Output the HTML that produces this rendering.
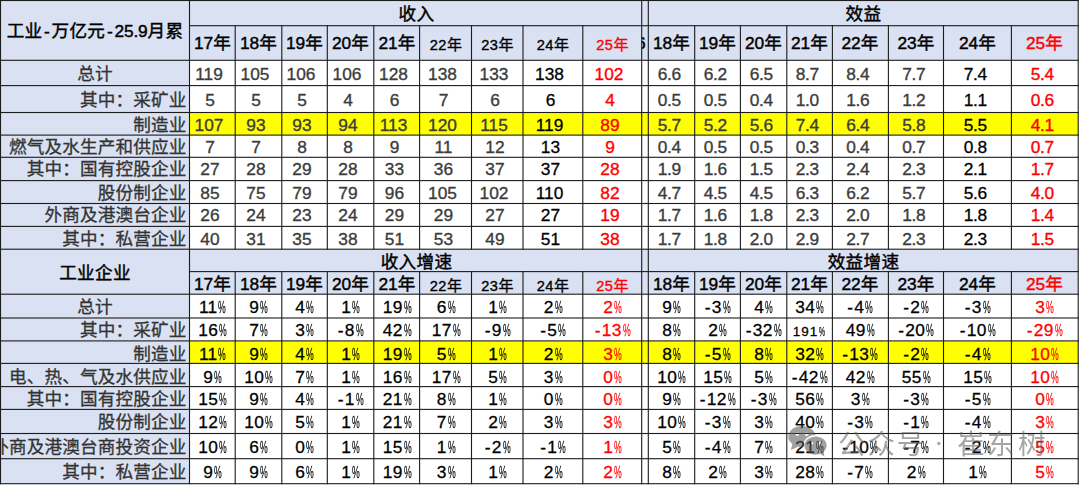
<!DOCTYPE html>
<html lang="zh"><head><meta charset="utf-8"><title>工业企业数据表</title>
<style>
html,body{margin:0;padding:0;background:#fff}
body{width:1080px;height:486px;overflow:hidden;position:relative;font-family:"Liberation Sans","Noto Sans CJK SC",sans-serif;font-size:17.33px;color:#000}
#t{position:absolute;left:0;top:0;width:1080px;height:486px;overflow:hidden;background:#fff}
.c{position:absolute;display:flex;align-items:flex-start;justify-content:center;overflow:hidden;white-space:nowrap;box-sizing:border-box;line-height:1}
.c>span{display:inline-block}
.k{font-size:17.6px}
.p{display:inline-block;width:7.6px;margin-left:1px;opacity:.95;transform:scaleX(0.5);transform-origin:left center;white-space:nowrap}
.pc{letter-spacing:0.2px}
.h{color:#000;-webkit-text-stroke:0.42px #000}
.h .k{letter-spacing:0.3px}
.tt{padding-left:1px}
.h.red{-webkit-text-stroke-color:#ff0000}
b.hy{font-weight:normal;margin:0 1.7px}
.d{letter-spacing:-0.15px}
.n{color:#3c3c3c;-webkit-text-stroke:0.35px}
.n:not(.pc){padding-right:5px}
.n.d3{padding-right:7px}
.n.dc{padding-right:4.6px;letter-spacing:-0.35px}
.k0{color:#000;-webkit-text-stroke-width:0.28px}
.red{color:#ff0000}
.lab{justify-content:flex-end;padding-right:3.6px;color:#333;-webkit-text-stroke:0.3px #333}
.lab.ctr{justify-content:center;padding-right:0}
.lab .k{letter-spacing:0.15px}
b.m{font-weight:normal;margin-right:1px}
.s{font-size:14.6px;-webkit-text-stroke-width:0.35px;letter-spacing:0.5px}
.s .k{font-size:15px}
.sm{font-size:13.5px;letter-spacing:1px}
.sm .p{width:7px}
.clip{position:absolute;left:-6px;top:9px}
#gl{position:absolute;left:0;top:0;width:1080px;height:486px;fill:#1c1c1c;pointer-events:none}
#wm{position:absolute;left:0;top:0;width:1080px;height:486px;fill:#666;opacity:.58;pointer-events:none}
#wm text{font-family:"Liberation Sans","Noto Sans CJK SC",sans-serif;font-size:27.5px}
.lg{fill:#5c5c5c}
</style></head>
<body>
<div id="t">
<div class="c h tl" style="left:0px;top:0px;width:190px;height:60px;background:#d9e1f2;padding-top:22.53px;"><span><span class="k">工业</span><b class="hy">-</b><span class="k">万亿元</span><b class="hy">-</b><span class="d">25.9</span><span class="k">月累</span></span></div>
<div class="c h tt" style="left:190px;top:0px;width:452px;height:26px;background:#d9e1f2;padding-top:5.93px;"><span><span class="k">收入</span></span></div>
<div class="c h" style="left:642px;top:0px;width:6px;height:26px;background:#d9e1f2;"></div>
<div class="c h tt" style="left:648px;top:0px;width:430px;height:26px;background:#d9e1f2;padding-top:5.93px;"><span><span class="k">效益</span></span></div>
<div class="c h y" style="left:190px;top:26px;width:45px;height:34px;background:#d9e1f2;padding-top:9.33px;"><span>17<span class="k">年</span></span></div>
<div class="c h y" style="left:235px;top:26px;width:47px;height:34px;background:#d9e1f2;padding-top:9.33px;"><span>18<span class="k">年</span></span></div>
<div class="c h y" style="left:282px;top:26px;width:45px;height:34px;background:#d9e1f2;padding-top:9.33px;"><span>19<span class="k">年</span></span></div>
<div class="c h y" style="left:327px;top:26px;width:47px;height:34px;background:#d9e1f2;padding-top:9.33px;"><span>20<span class="k">年</span></span></div>
<div class="c h y" style="left:374px;top:26px;width:46px;height:34px;background:#d9e1f2;padding-top:9.33px;"><span>21<span class="k">年</span></span></div>
<div class="c h y s" style="left:420px;top:26px;width:52px;height:34px;background:#d9e1f2;padding-top:10.84px;"><span>22<span class="k">年</span></span></div>
<div class="c h y s" style="left:472px;top:26px;width:51px;height:34px;background:#d9e1f2;padding-top:10.84px;"><span>23<span class="k">年</span></span></div>
<div class="c h y s" style="left:523px;top:26px;width:60px;height:34px;background:#d9e1f2;padding-top:10.84px;"><span>24<span class="k">年</span></span></div>
<div class="c h y s red" style="left:583px;top:26px;width:59px;height:34px;background:#d9e1f2;padding-top:10.84px;"><span>25<span class="k">年</span></span></div>
<div class="c h y gap" style="left:642px;top:26px;width:6px;height:34px;background:#d9e1f2;padding-top:9.33px;"><span class="clip">6</span></div>
<div class="c h y" style="left:648px;top:26px;width:47px;height:34px;background:#d9e1f2;padding-top:9.33px;"><span>18<span class="k">年</span></span></div>
<div class="c h y" style="left:695px;top:26px;width:45px;height:34px;background:#d9e1f2;padding-top:9.33px;"><span>19<span class="k">年</span></span></div>
<div class="c h y" style="left:740px;top:26px;width:47px;height:34px;background:#d9e1f2;padding-top:9.33px;"><span>20<span class="k">年</span></span></div>
<div class="c h y" style="left:787px;top:26px;width:45px;height:34px;background:#d9e1f2;padding-top:9.33px;"><span>21<span class="k">年</span></span></div>
<div class="c h y" style="left:832px;top:26px;width:56px;height:34px;background:#d9e1f2;padding-top:9.33px;"><span>22<span class="k">年</span></span></div>
<div class="c h y" style="left:888px;top:26px;width:56px;height:34px;background:#d9e1f2;padding-top:9.33px;"><span>23<span class="k">年</span></span></div>
<div class="c h y" style="left:944px;top:26px;width:67px;height:34px;background:#d9e1f2;padding-top:9.33px;"><span>24<span class="k">年</span></span></div>
<div class="c h y red" style="left:1011px;top:26px;width:67px;height:34px;background:#d9e1f2;padding-top:9.33px;"><span>25<span class="k">年</span></span></div>
<div class="c lab ctr" style="left:0px;top:60px;width:190px;height:26px;background:#d9e1f2;padding-top:5.73px;"><span><span class="k">总计</span></span></div>
<div class="c n d3" style="left:190px;top:60px;width:45px;height:26px;background:#fff;padding-top:5.73px;"><span>119</span></div>
<div class="c n d3" style="left:235px;top:60px;width:47px;height:26px;background:#fff;padding-top:5.73px;"><span>105</span></div>
<div class="c n d3" style="left:282px;top:60px;width:45px;height:26px;background:#fff;padding-top:5.73px;"><span>106</span></div>
<div class="c n d3" style="left:327px;top:60px;width:47px;height:26px;background:#fff;padding-top:5.73px;"><span>106</span></div>
<div class="c n d3" style="left:374px;top:60px;width:46px;height:26px;background:#fff;padding-top:5.73px;"><span>128</span></div>
<div class="c n d3" style="left:420px;top:60px;width:52px;height:26px;background:#fff;padding-top:5.73px;"><span>138</span></div>
<div class="c n d3" style="left:472px;top:60px;width:51px;height:26px;background:#fff;padding-top:5.73px;"><span>133</span></div>
<div class="c n k0 d3" style="left:523px;top:60px;width:60px;height:26px;background:#fff;padding-top:5.73px;"><span>138</span></div>
<div class="c n red d3" style="left:583px;top:60px;width:59px;height:26px;background:#fff;padding-top:5.73px;"><span>102</span></div>
<div class="c " style="left:642px;top:60px;width:6px;height:26px;background:#fff;"></div>
<div class="c n dc" style="left:648px;top:60px;width:47px;height:26px;background:#fff;padding-top:5.73px;"><span>6.6</span></div>
<div class="c n dc" style="left:695px;top:60px;width:45px;height:26px;background:#fff;padding-top:5.73px;"><span>6.2</span></div>
<div class="c n dc" style="left:740px;top:60px;width:47px;height:26px;background:#fff;padding-top:5.73px;"><span>6.5</span></div>
<div class="c n dc" style="left:787px;top:60px;width:45px;height:26px;background:#fff;padding-top:5.73px;"><span>8.7</span></div>
<div class="c n dc" style="left:832px;top:60px;width:56px;height:26px;background:#fff;padding-top:5.73px;"><span>8.4</span></div>
<div class="c n dc" style="left:888px;top:60px;width:56px;height:26px;background:#fff;padding-top:5.73px;"><span>7.7</span></div>
<div class="c n k0 dc" style="left:944px;top:60px;width:67px;height:26px;background:#fff;padding-top:5.73px;"><span>7.4</span></div>
<div class="c n red dc" style="left:1011px;top:60px;width:67px;height:26px;background:#fff;padding-top:5.73px;"><span>5.4</span></div>
<div class="c lab" style="left:0px;top:86px;width:190px;height:26px;background:#d9e1f2;padding-top:6.33px;"><span><span class="k">其中：采矿业</span></span></div>
<div class="c n" style="left:190px;top:86px;width:45px;height:26px;background:#fff;padding-top:6.33px;"><span>5</span></div>
<div class="c n" style="left:235px;top:86px;width:47px;height:26px;background:#fff;padding-top:6.33px;"><span>5</span></div>
<div class="c n" style="left:282px;top:86px;width:45px;height:26px;background:#fff;padding-top:6.33px;"><span>5</span></div>
<div class="c n" style="left:327px;top:86px;width:47px;height:26px;background:#fff;padding-top:6.33px;"><span>4</span></div>
<div class="c n" style="left:374px;top:86px;width:46px;height:26px;background:#fff;padding-top:6.33px;"><span>6</span></div>
<div class="c n" style="left:420px;top:86px;width:52px;height:26px;background:#fff;padding-top:6.33px;"><span>7</span></div>
<div class="c n" style="left:472px;top:86px;width:51px;height:26px;background:#fff;padding-top:6.33px;"><span>6</span></div>
<div class="c n k0" style="left:523px;top:86px;width:60px;height:26px;background:#fff;padding-top:6.33px;"><span>6</span></div>
<div class="c n red" style="left:583px;top:86px;width:59px;height:26px;background:#fff;padding-top:6.33px;"><span>4</span></div>
<div class="c " style="left:642px;top:86px;width:6px;height:26px;background:#fff;"></div>
<div class="c n dc" style="left:648px;top:86px;width:47px;height:26px;background:#fff;padding-top:6.33px;"><span>0.5</span></div>
<div class="c n dc" style="left:695px;top:86px;width:45px;height:26px;background:#fff;padding-top:6.33px;"><span>0.5</span></div>
<div class="c n dc" style="left:740px;top:86px;width:47px;height:26px;background:#fff;padding-top:6.33px;"><span>0.4</span></div>
<div class="c n dc" style="left:787px;top:86px;width:45px;height:26px;background:#fff;padding-top:6.33px;"><span>1.0</span></div>
<div class="c n dc" style="left:832px;top:86px;width:56px;height:26px;background:#fff;padding-top:6.33px;"><span>1.6</span></div>
<div class="c n dc" style="left:888px;top:86px;width:56px;height:26px;background:#fff;padding-top:6.33px;"><span>1.2</span></div>
<div class="c n k0 dc" style="left:944px;top:86px;width:67px;height:26px;background:#fff;padding-top:6.33px;"><span>1.1</span></div>
<div class="c n red dc" style="left:1011px;top:86px;width:67px;height:26px;background:#fff;padding-top:6.33px;"><span>0.6</span></div>
<div class="c lab" style="left:0px;top:112px;width:190px;height:23px;background:#d9e1f2;padding-top:4.68px;"><span><span class="k">制造业</span></span></div>
<div class="c n d3" style="left:190px;top:112px;width:45px;height:23px;background:#ffff00;padding-top:4.68px;"><span>107</span></div>
<div class="c n" style="left:235px;top:112px;width:47px;height:23px;background:#ffff00;padding-top:4.68px;"><span>93</span></div>
<div class="c n" style="left:282px;top:112px;width:45px;height:23px;background:#ffff00;padding-top:4.68px;"><span>93</span></div>
<div class="c n" style="left:327px;top:112px;width:47px;height:23px;background:#ffff00;padding-top:4.68px;"><span>94</span></div>
<div class="c n d3" style="left:374px;top:112px;width:46px;height:23px;background:#ffff00;padding-top:4.68px;"><span>113</span></div>
<div class="c n d3" style="left:420px;top:112px;width:52px;height:23px;background:#ffff00;padding-top:4.68px;"><span>120</span></div>
<div class="c n d3" style="left:472px;top:112px;width:51px;height:23px;background:#ffff00;padding-top:4.68px;"><span>115</span></div>
<div class="c n k0 d3" style="left:523px;top:112px;width:60px;height:23px;background:#ffff00;padding-top:4.68px;"><span>119</span></div>
<div class="c n red" style="left:583px;top:112px;width:59px;height:23px;background:#ffff00;padding-top:4.68px;"><span>89</span></div>
<div class="c " style="left:642px;top:112px;width:6px;height:23px;background:#ffff00;"></div>
<div class="c n dc" style="left:648px;top:112px;width:47px;height:23px;background:#ffff00;padding-top:4.68px;"><span>5.7</span></div>
<div class="c n dc" style="left:695px;top:112px;width:45px;height:23px;background:#ffff00;padding-top:4.68px;"><span>5.2</span></div>
<div class="c n dc" style="left:740px;top:112px;width:47px;height:23px;background:#ffff00;padding-top:4.68px;"><span>5.6</span></div>
<div class="c n dc" style="left:787px;top:112px;width:45px;height:23px;background:#ffff00;padding-top:4.68px;"><span>7.4</span></div>
<div class="c n dc" style="left:832px;top:112px;width:56px;height:23px;background:#ffff00;padding-top:4.68px;"><span>6.4</span></div>
<div class="c n dc" style="left:888px;top:112px;width:56px;height:23px;background:#ffff00;padding-top:4.68px;"><span>5.8</span></div>
<div class="c n k0 dc" style="left:944px;top:112px;width:67px;height:23px;background:#ffff00;padding-top:4.68px;"><span>5.5</span></div>
<div class="c n red dc" style="left:1011px;top:112px;width:67px;height:23px;background:#ffff00;padding-top:4.68px;"><span>4.1</span></div>
<div class="c lab" style="left:0px;top:135px;width:190px;height:22px;background:#d9e1f2;padding-top:4.13px;"><span><span class="k">燃气及水生产和供应业</span></span></div>
<div class="c n" style="left:190px;top:135px;width:45px;height:22px;background:#fff;padding-top:4.13px;"><span>7</span></div>
<div class="c n" style="left:235px;top:135px;width:47px;height:22px;background:#fff;padding-top:4.13px;"><span>7</span></div>
<div class="c n" style="left:282px;top:135px;width:45px;height:22px;background:#fff;padding-top:4.13px;"><span>8</span></div>
<div class="c n" style="left:327px;top:135px;width:47px;height:22px;background:#fff;padding-top:4.13px;"><span>8</span></div>
<div class="c n" style="left:374px;top:135px;width:46px;height:22px;background:#fff;padding-top:4.13px;"><span>9</span></div>
<div class="c n" style="left:420px;top:135px;width:52px;height:22px;background:#fff;padding-top:4.13px;"><span>11</span></div>
<div class="c n" style="left:472px;top:135px;width:51px;height:22px;background:#fff;padding-top:4.13px;"><span>12</span></div>
<div class="c n k0" style="left:523px;top:135px;width:60px;height:22px;background:#fff;padding-top:4.13px;"><span>13</span></div>
<div class="c n red" style="left:583px;top:135px;width:59px;height:22px;background:#fff;padding-top:4.13px;"><span>9</span></div>
<div class="c " style="left:642px;top:135px;width:6px;height:22px;background:#fff;"></div>
<div class="c n dc" style="left:648px;top:135px;width:47px;height:22px;background:#fff;padding-top:4.13px;"><span>0.4</span></div>
<div class="c n dc" style="left:695px;top:135px;width:45px;height:22px;background:#fff;padding-top:4.13px;"><span>0.5</span></div>
<div class="c n dc" style="left:740px;top:135px;width:47px;height:22px;background:#fff;padding-top:4.13px;"><span>0.5</span></div>
<div class="c n dc" style="left:787px;top:135px;width:45px;height:22px;background:#fff;padding-top:4.13px;"><span>0.3</span></div>
<div class="c n dc" style="left:832px;top:135px;width:56px;height:22px;background:#fff;padding-top:4.13px;"><span>0.4</span></div>
<div class="c n dc" style="left:888px;top:135px;width:56px;height:22px;background:#fff;padding-top:4.13px;"><span>0.7</span></div>
<div class="c n k0 dc" style="left:944px;top:135px;width:67px;height:22px;background:#fff;padding-top:4.13px;"><span>0.8</span></div>
<div class="c n red dc" style="left:1011px;top:135px;width:67px;height:22px;background:#fff;padding-top:4.13px;"><span>0.7</span></div>
<div class="c lab" style="left:0px;top:157px;width:190px;height:24px;background:#d9e1f2;padding-top:4.48px;"><span><span class="k">其中：国有控股企业</span></span></div>
<div class="c n" style="left:190px;top:157px;width:45px;height:24px;background:#fff;padding-top:4.48px;"><span>27</span></div>
<div class="c n" style="left:235px;top:157px;width:47px;height:24px;background:#fff;padding-top:4.48px;"><span>28</span></div>
<div class="c n" style="left:282px;top:157px;width:45px;height:24px;background:#fff;padding-top:4.48px;"><span>29</span></div>
<div class="c n" style="left:327px;top:157px;width:47px;height:24px;background:#fff;padding-top:4.48px;"><span>28</span></div>
<div class="c n" style="left:374px;top:157px;width:46px;height:24px;background:#fff;padding-top:4.48px;"><span>33</span></div>
<div class="c n" style="left:420px;top:157px;width:52px;height:24px;background:#fff;padding-top:4.48px;"><span>36</span></div>
<div class="c n" style="left:472px;top:157px;width:51px;height:24px;background:#fff;padding-top:4.48px;"><span>37</span></div>
<div class="c n k0" style="left:523px;top:157px;width:60px;height:24px;background:#fff;padding-top:4.48px;"><span>37</span></div>
<div class="c n red" style="left:583px;top:157px;width:59px;height:24px;background:#fff;padding-top:4.48px;"><span>28</span></div>
<div class="c " style="left:642px;top:157px;width:6px;height:24px;background:#fff;"></div>
<div class="c n dc" style="left:648px;top:157px;width:47px;height:24px;background:#fff;padding-top:4.48px;"><span>1.9</span></div>
<div class="c n dc" style="left:695px;top:157px;width:45px;height:24px;background:#fff;padding-top:4.48px;"><span>1.6</span></div>
<div class="c n dc" style="left:740px;top:157px;width:47px;height:24px;background:#fff;padding-top:4.48px;"><span>1.5</span></div>
<div class="c n dc" style="left:787px;top:157px;width:45px;height:24px;background:#fff;padding-top:4.48px;"><span>2.3</span></div>
<div class="c n dc" style="left:832px;top:157px;width:56px;height:24px;background:#fff;padding-top:4.48px;"><span>2.4</span></div>
<div class="c n dc" style="left:888px;top:157px;width:56px;height:24px;background:#fff;padding-top:4.48px;"><span>2.3</span></div>
<div class="c n k0 dc" style="left:944px;top:157px;width:67px;height:24px;background:#fff;padding-top:4.48px;"><span>2.1</span></div>
<div class="c n red dc" style="left:1011px;top:157px;width:67px;height:24px;background:#fff;padding-top:4.48px;"><span>1.7</span></div>
<div class="c lab" style="left:0px;top:181px;width:190px;height:23px;background:#d9e1f2;padding-top:3.53px;"><span><span class="k">股份制企业</span></span></div>
<div class="c n" style="left:190px;top:181px;width:45px;height:23px;background:#fff;padding-top:3.53px;"><span>85</span></div>
<div class="c n" style="left:235px;top:181px;width:47px;height:23px;background:#fff;padding-top:3.53px;"><span>75</span></div>
<div class="c n" style="left:282px;top:181px;width:45px;height:23px;background:#fff;padding-top:3.53px;"><span>79</span></div>
<div class="c n" style="left:327px;top:181px;width:47px;height:23px;background:#fff;padding-top:3.53px;"><span>79</span></div>
<div class="c n" style="left:374px;top:181px;width:46px;height:23px;background:#fff;padding-top:3.53px;"><span>96</span></div>
<div class="c n d3" style="left:420px;top:181px;width:52px;height:23px;background:#fff;padding-top:3.53px;"><span>105</span></div>
<div class="c n d3" style="left:472px;top:181px;width:51px;height:23px;background:#fff;padding-top:3.53px;"><span>102</span></div>
<div class="c n k0 d3" style="left:523px;top:181px;width:60px;height:23px;background:#fff;padding-top:3.53px;"><span>110</span></div>
<div class="c n red" style="left:583px;top:181px;width:59px;height:23px;background:#fff;padding-top:3.53px;"><span>82</span></div>
<div class="c " style="left:642px;top:181px;width:6px;height:23px;background:#fff;"></div>
<div class="c n dc" style="left:648px;top:181px;width:47px;height:23px;background:#fff;padding-top:3.53px;"><span>4.7</span></div>
<div class="c n dc" style="left:695px;top:181px;width:45px;height:23px;background:#fff;padding-top:3.53px;"><span>4.5</span></div>
<div class="c n dc" style="left:740px;top:181px;width:47px;height:23px;background:#fff;padding-top:3.53px;"><span>4.5</span></div>
<div class="c n dc" style="left:787px;top:181px;width:45px;height:23px;background:#fff;padding-top:3.53px;"><span>6.3</span></div>
<div class="c n dc" style="left:832px;top:181px;width:56px;height:23px;background:#fff;padding-top:3.53px;"><span>6.2</span></div>
<div class="c n dc" style="left:888px;top:181px;width:56px;height:23px;background:#fff;padding-top:3.53px;"><span>5.7</span></div>
<div class="c n k0 dc" style="left:944px;top:181px;width:67px;height:23px;background:#fff;padding-top:3.53px;"><span>5.6</span></div>
<div class="c n red dc" style="left:1011px;top:181px;width:67px;height:23px;background:#fff;padding-top:3.53px;"><span>4.0</span></div>
<div class="c lab" style="left:0px;top:204px;width:190px;height:22px;background:#d9e1f2;padding-top:3.23px;"><span><span class="k">外商及港澳台企业</span></span></div>
<div class="c n" style="left:190px;top:204px;width:45px;height:22px;background:#fff;padding-top:3.23px;"><span>26</span></div>
<div class="c n" style="left:235px;top:204px;width:47px;height:22px;background:#fff;padding-top:3.23px;"><span>24</span></div>
<div class="c n" style="left:282px;top:204px;width:45px;height:22px;background:#fff;padding-top:3.23px;"><span>23</span></div>
<div class="c n" style="left:327px;top:204px;width:47px;height:22px;background:#fff;padding-top:3.23px;"><span>24</span></div>
<div class="c n" style="left:374px;top:204px;width:46px;height:22px;background:#fff;padding-top:3.23px;"><span>29</span></div>
<div class="c n" style="left:420px;top:204px;width:52px;height:22px;background:#fff;padding-top:3.23px;"><span>29</span></div>
<div class="c n" style="left:472px;top:204px;width:51px;height:22px;background:#fff;padding-top:3.23px;"><span>27</span></div>
<div class="c n k0" style="left:523px;top:204px;width:60px;height:22px;background:#fff;padding-top:3.23px;"><span>27</span></div>
<div class="c n red" style="left:583px;top:204px;width:59px;height:22px;background:#fff;padding-top:3.23px;"><span>19</span></div>
<div class="c " style="left:642px;top:204px;width:6px;height:22px;background:#fff;"></div>
<div class="c n dc" style="left:648px;top:204px;width:47px;height:22px;background:#fff;padding-top:3.23px;"><span>1.7</span></div>
<div class="c n dc" style="left:695px;top:204px;width:45px;height:22px;background:#fff;padding-top:3.23px;"><span>1.6</span></div>
<div class="c n dc" style="left:740px;top:204px;width:47px;height:22px;background:#fff;padding-top:3.23px;"><span>1.8</span></div>
<div class="c n dc" style="left:787px;top:204px;width:45px;height:22px;background:#fff;padding-top:3.23px;"><span>2.3</span></div>
<div class="c n dc" style="left:832px;top:204px;width:56px;height:22px;background:#fff;padding-top:3.23px;"><span>2.0</span></div>
<div class="c n dc" style="left:888px;top:204px;width:56px;height:22px;background:#fff;padding-top:3.23px;"><span>1.8</span></div>
<div class="c n k0 dc" style="left:944px;top:204px;width:67px;height:22px;background:#fff;padding-top:3.23px;"><span>1.8</span></div>
<div class="c n red dc" style="left:1011px;top:204px;width:67px;height:22px;background:#fff;padding-top:3.23px;"><span>1.4</span></div>
<div class="c lab" style="left:0px;top:226px;width:190px;height:23px;background:#d9e1f2;padding-top:4.78px;"><span><span class="k">其中：私营企业</span></span></div>
<div class="c n" style="left:190px;top:226px;width:45px;height:23px;background:#fff;padding-top:4.78px;"><span>40</span></div>
<div class="c n" style="left:235px;top:226px;width:47px;height:23px;background:#fff;padding-top:4.78px;"><span>31</span></div>
<div class="c n" style="left:282px;top:226px;width:45px;height:23px;background:#fff;padding-top:4.78px;"><span>35</span></div>
<div class="c n" style="left:327px;top:226px;width:47px;height:23px;background:#fff;padding-top:4.78px;"><span>38</span></div>
<div class="c n" style="left:374px;top:226px;width:46px;height:23px;background:#fff;padding-top:4.78px;"><span>51</span></div>
<div class="c n" style="left:420px;top:226px;width:52px;height:23px;background:#fff;padding-top:4.78px;"><span>53</span></div>
<div class="c n" style="left:472px;top:226px;width:51px;height:23px;background:#fff;padding-top:4.78px;"><span>49</span></div>
<div class="c n k0" style="left:523px;top:226px;width:60px;height:23px;background:#fff;padding-top:4.78px;"><span>51</span></div>
<div class="c n red" style="left:583px;top:226px;width:59px;height:23px;background:#fff;padding-top:4.78px;"><span>38</span></div>
<div class="c " style="left:642px;top:226px;width:6px;height:23px;background:#fff;"></div>
<div class="c n dc" style="left:648px;top:226px;width:47px;height:23px;background:#fff;padding-top:4.78px;"><span>1.7</span></div>
<div class="c n dc" style="left:695px;top:226px;width:45px;height:23px;background:#fff;padding-top:4.78px;"><span>1.8</span></div>
<div class="c n dc" style="left:740px;top:226px;width:47px;height:23px;background:#fff;padding-top:4.78px;"><span>2.0</span></div>
<div class="c n dc" style="left:787px;top:226px;width:45px;height:23px;background:#fff;padding-top:4.78px;"><span>2.9</span></div>
<div class="c n dc" style="left:832px;top:226px;width:56px;height:23px;background:#fff;padding-top:4.78px;"><span>2.7</span></div>
<div class="c n dc" style="left:888px;top:226px;width:56px;height:23px;background:#fff;padding-top:4.78px;"><span>2.3</span></div>
<div class="c n k0 dc" style="left:944px;top:226px;width:67px;height:23px;background:#fff;padding-top:4.78px;"><span>2.3</span></div>
<div class="c n red dc" style="left:1011px;top:226px;width:67px;height:23px;background:#fff;padding-top:4.78px;"><span>1.5</span></div>
<div class="c h tl" style="left:0px;top:249px;width:190px;height:45px;background:#d9e1f2;padding-top:16.13px;"><span><span class="k">工业企业</span></span></div>
<div class="c h tt" style="left:190px;top:249px;width:452px;height:23px;background:#d9e1f2;padding-top:4.93px;"><span><span class="k">收入增速</span></span></div>
<div class="c h" style="left:642px;top:249px;width:6px;height:23px;background:#d9e1f2;"></div>
<div class="c h tt" style="left:648px;top:249px;width:430px;height:23px;background:#d9e1f2;padding-top:4.93px;"><span><span class="k">效益增速</span></span></div>
<div class="c h y" style="left:190px;top:272px;width:45px;height:22px;background:#d9e1f2;padding-top:4.23px;"><span>17<span class="k">年</span></span></div>
<div class="c h y" style="left:235px;top:272px;width:47px;height:22px;background:#d9e1f2;padding-top:4.23px;"><span>18<span class="k">年</span></span></div>
<div class="c h y" style="left:282px;top:272px;width:45px;height:22px;background:#d9e1f2;padding-top:4.23px;"><span>19<span class="k">年</span></span></div>
<div class="c h y" style="left:327px;top:272px;width:47px;height:22px;background:#d9e1f2;padding-top:4.23px;"><span>20<span class="k">年</span></span></div>
<div class="c h y" style="left:374px;top:272px;width:46px;height:22px;background:#d9e1f2;padding-top:4.23px;"><span>21<span class="k">年</span></span></div>
<div class="c h y s" style="left:420px;top:272px;width:52px;height:22px;background:#d9e1f2;padding-top:5.74px;"><span>22<span class="k">年</span></span></div>
<div class="c h y s" style="left:472px;top:272px;width:51px;height:22px;background:#d9e1f2;padding-top:5.74px;"><span>23<span class="k">年</span></span></div>
<div class="c h y s" style="left:523px;top:272px;width:60px;height:22px;background:#d9e1f2;padding-top:5.74px;"><span>24<span class="k">年</span></span></div>
<div class="c h y s red" style="left:583px;top:272px;width:59px;height:22px;background:#d9e1f2;padding-top:5.74px;"><span>25<span class="k">年</span></span></div>
<div class="c h y gap" style="left:642px;top:272px;width:6px;height:22px;background:#d9e1f2;padding-top:4.23px;"></div>
<div class="c h y" style="left:648px;top:272px;width:47px;height:22px;background:#d9e1f2;padding-top:4.23px;"><span>18<span class="k">年</span></span></div>
<div class="c h y" style="left:695px;top:272px;width:45px;height:22px;background:#d9e1f2;padding-top:4.23px;"><span>19<span class="k">年</span></span></div>
<div class="c h y" style="left:740px;top:272px;width:47px;height:22px;background:#d9e1f2;padding-top:4.23px;"><span>20<span class="k">年</span></span></div>
<div class="c h y" style="left:787px;top:272px;width:45px;height:22px;background:#d9e1f2;padding-top:4.23px;"><span>21<span class="k">年</span></span></div>
<div class="c h y" style="left:832px;top:272px;width:56px;height:22px;background:#d9e1f2;padding-top:4.23px;"><span>22<span class="k">年</span></span></div>
<div class="c h y" style="left:888px;top:272px;width:56px;height:22px;background:#d9e1f2;padding-top:4.23px;"><span>23<span class="k">年</span></span></div>
<div class="c h y" style="left:944px;top:272px;width:67px;height:22px;background:#d9e1f2;padding-top:4.23px;"><span>24<span class="k">年</span></span></div>
<div class="c h y red" style="left:1011px;top:272px;width:67px;height:22px;background:#d9e1f2;padding-top:4.23px;"><span>25<span class="k">年</span></span></div>
<div class="c lab ctr" style="left:0px;top:294px;width:190px;height:24px;background:#d9e1f2;padding-top:5.03px;"><span><span class="k">总计</span></span></div>
<div class="c n k0 pc" style="left:190px;top:294px;width:45px;height:24px;background:#fff;padding-top:5.03px;"><span>11<span class="p">%</span></span></div>
<div class="c n k0 pc" style="left:235px;top:294px;width:47px;height:24px;background:#fff;padding-top:5.03px;"><span>9<span class="p">%</span></span></div>
<div class="c n k0 pc" style="left:282px;top:294px;width:45px;height:24px;background:#fff;padding-top:5.03px;"><span>4<span class="p">%</span></span></div>
<div class="c n k0 pc" style="left:327px;top:294px;width:47px;height:24px;background:#fff;padding-top:5.03px;"><span>1<span class="p">%</span></span></div>
<div class="c n k0 pc" style="left:374px;top:294px;width:46px;height:24px;background:#fff;padding-top:5.03px;"><span>19<span class="p">%</span></span></div>
<div class="c n k0 pc" style="left:420px;top:294px;width:52px;height:24px;background:#fff;padding-top:5.03px;"><span>6<span class="p">%</span></span></div>
<div class="c n k0 pc" style="left:472px;top:294px;width:51px;height:24px;background:#fff;padding-top:5.03px;"><span>1<span class="p">%</span></span></div>
<div class="c n k0 pc" style="left:523px;top:294px;width:60px;height:24px;background:#fff;padding-top:5.03px;"><span>2<span class="p">%</span></span></div>
<div class="c n k0 red pc" style="left:583px;top:294px;width:59px;height:24px;background:#fff;padding-top:5.03px;"><span>2<span class="p">%</span></span></div>
<div class="c " style="left:642px;top:294px;width:6px;height:24px;background:#fff;"></div>
<div class="c n k0 pc" style="left:648px;top:294px;width:47px;height:24px;background:#fff;padding-top:5.03px;"><span>9<span class="p">%</span></span></div>
<div class="c n k0 pc" style="left:695px;top:294px;width:45px;height:24px;background:#fff;padding-top:5.03px;"><span><b class="m">-</b>3<span class="p">%</span></span></div>
<div class="c n k0 pc" style="left:740px;top:294px;width:47px;height:24px;background:#fff;padding-top:5.03px;"><span>4<span class="p">%</span></span></div>
<div class="c n k0 pc" style="left:787px;top:294px;width:45px;height:24px;background:#fff;padding-top:5.03px;"><span>34<span class="p">%</span></span></div>
<div class="c n k0 pc" style="left:832px;top:294px;width:56px;height:24px;background:#fff;padding-top:5.03px;"><span><b class="m">-</b>4<span class="p">%</span></span></div>
<div class="c n k0 pc" style="left:888px;top:294px;width:56px;height:24px;background:#fff;padding-top:5.03px;"><span><b class="m">-</b>2<span class="p">%</span></span></div>
<div class="c n k0 pc" style="left:944px;top:294px;width:67px;height:24px;background:#fff;padding-top:5.03px;"><span><b class="m">-</b>3<span class="p">%</span></span></div>
<div class="c n k0 red pc" style="left:1011px;top:294px;width:67px;height:24px;background:#fff;padding-top:5.03px;"><span>3<span class="p">%</span></span></div>
<div class="c lab" style="left:0px;top:318px;width:190px;height:23px;background:#d9e1f2;padding-top:4.23px;"><span><span class="k">其中：采矿业</span></span></div>
<div class="c n k0 pc" style="left:190px;top:318px;width:45px;height:23px;background:#fff;padding-top:4.23px;"><span>16<span class="p">%</span></span></div>
<div class="c n k0 pc" style="left:235px;top:318px;width:47px;height:23px;background:#fff;padding-top:4.23px;"><span>7<span class="p">%</span></span></div>
<div class="c n k0 pc" style="left:282px;top:318px;width:45px;height:23px;background:#fff;padding-top:4.23px;"><span>3<span class="p">%</span></span></div>
<div class="c n k0 pc" style="left:327px;top:318px;width:47px;height:23px;background:#fff;padding-top:4.23px;"><span><b class="m">-</b>8<span class="p">%</span></span></div>
<div class="c n k0 pc" style="left:374px;top:318px;width:46px;height:23px;background:#fff;padding-top:4.23px;"><span>42<span class="p">%</span></span></div>
<div class="c n k0 pc" style="left:420px;top:318px;width:52px;height:23px;background:#fff;padding-top:4.23px;"><span>17<span class="p">%</span></span></div>
<div class="c n k0 pc" style="left:472px;top:318px;width:51px;height:23px;background:#fff;padding-top:4.23px;"><span><b class="m">-</b>9<span class="p">%</span></span></div>
<div class="c n k0 pc" style="left:523px;top:318px;width:60px;height:23px;background:#fff;padding-top:4.23px;"><span><b class="m">-</b>5<span class="p">%</span></span></div>
<div class="c n k0 red pc" style="left:583px;top:318px;width:59px;height:23px;background:#fff;padding-top:4.23px;"><span><b class="m">-</b>13<span class="p">%</span></span></div>
<div class="c " style="left:642px;top:318px;width:6px;height:23px;background:#fff;"></div>
<div class="c n k0 pc" style="left:648px;top:318px;width:47px;height:23px;background:#fff;padding-top:4.23px;"><span>8<span class="p">%</span></span></div>
<div class="c n k0 pc" style="left:695px;top:318px;width:45px;height:23px;background:#fff;padding-top:4.23px;"><span>2<span class="p">%</span></span></div>
<div class="c n k0 pc" style="left:740px;top:318px;width:47px;height:23px;background:#fff;padding-top:4.23px;"><span><b class="m">-</b>32<span class="p">%</span></span></div>
<div class="c n k0 pc sm" style="left:787px;top:318px;width:45px;height:23px;background:#fff;padding-top:6.97px;"><span>191<span class="p">%</span></span></div>
<div class="c n k0 pc" style="left:832px;top:318px;width:56px;height:23px;background:#fff;padding-top:4.23px;"><span>49<span class="p">%</span></span></div>
<div class="c n k0 pc" style="left:888px;top:318px;width:56px;height:23px;background:#fff;padding-top:4.23px;"><span><b class="m">-</b>20<span class="p">%</span></span></div>
<div class="c n k0 pc" style="left:944px;top:318px;width:67px;height:23px;background:#fff;padding-top:4.23px;"><span><b class="m">-</b>10<span class="p">%</span></span></div>
<div class="c n k0 red pc" style="left:1011px;top:318px;width:67px;height:23px;background:#fff;padding-top:4.23px;"><span><b class="m">-</b>29<span class="p">%</span></span></div>
<div class="c lab" style="left:0px;top:341px;width:190px;height:22px;background:#d9e1f2;padding-top:4.68px;"><span><span class="k">制造业</span></span></div>
<div class="c n k0 pc" style="left:190px;top:341px;width:45px;height:22px;background:#ffff00;padding-top:4.68px;"><span>11<span class="p">%</span></span></div>
<div class="c n k0 pc" style="left:235px;top:341px;width:47px;height:22px;background:#ffff00;padding-top:4.68px;"><span>9<span class="p">%</span></span></div>
<div class="c n k0 pc" style="left:282px;top:341px;width:45px;height:22px;background:#ffff00;padding-top:4.68px;"><span>4<span class="p">%</span></span></div>
<div class="c n k0 pc" style="left:327px;top:341px;width:47px;height:22px;background:#ffff00;padding-top:4.68px;"><span>1<span class="p">%</span></span></div>
<div class="c n k0 pc" style="left:374px;top:341px;width:46px;height:22px;background:#ffff00;padding-top:4.68px;"><span>19<span class="p">%</span></span></div>
<div class="c n k0 pc" style="left:420px;top:341px;width:52px;height:22px;background:#ffff00;padding-top:4.68px;"><span>5<span class="p">%</span></span></div>
<div class="c n k0 pc" style="left:472px;top:341px;width:51px;height:22px;background:#ffff00;padding-top:4.68px;"><span>1<span class="p">%</span></span></div>
<div class="c n k0 pc" style="left:523px;top:341px;width:60px;height:22px;background:#ffff00;padding-top:4.68px;"><span>2<span class="p">%</span></span></div>
<div class="c n k0 red pc" style="left:583px;top:341px;width:59px;height:22px;background:#ffff00;padding-top:4.68px;"><span>3<span class="p">%</span></span></div>
<div class="c " style="left:642px;top:341px;width:6px;height:22px;background:#ffff00;"></div>
<div class="c n k0 pc" style="left:648px;top:341px;width:47px;height:22px;background:#ffff00;padding-top:4.68px;"><span>8<span class="p">%</span></span></div>
<div class="c n k0 pc" style="left:695px;top:341px;width:45px;height:22px;background:#ffff00;padding-top:4.68px;"><span><b class="m">-</b>5<span class="p">%</span></span></div>
<div class="c n k0 pc" style="left:740px;top:341px;width:47px;height:22px;background:#ffff00;padding-top:4.68px;"><span>8<span class="p">%</span></span></div>
<div class="c n k0 pc" style="left:787px;top:341px;width:45px;height:22px;background:#ffff00;padding-top:4.68px;"><span>32<span class="p">%</span></span></div>
<div class="c n k0 pc" style="left:832px;top:341px;width:56px;height:22px;background:#ffff00;padding-top:4.68px;"><span><b class="m">-</b>13<span class="p">%</span></span></div>
<div class="c n k0 pc" style="left:888px;top:341px;width:56px;height:22px;background:#ffff00;padding-top:4.68px;"><span><b class="m">-</b>2<span class="p">%</span></span></div>
<div class="c n k0 pc" style="left:944px;top:341px;width:67px;height:22px;background:#ffff00;padding-top:4.68px;"><span><b class="m">-</b>4<span class="p">%</span></span></div>
<div class="c n k0 red pc" style="left:1011px;top:341px;width:67px;height:22px;background:#ffff00;padding-top:4.68px;"><span>10<span class="p">%</span></span></div>
<div class="c lab" style="left:0px;top:363px;width:190px;height:24px;background:#d9e1f2;padding-top:5.83px;"><span><span class="k">电、热、气及水供应业</span></span></div>
<div class="c n k0 pc" style="left:190px;top:363px;width:45px;height:24px;background:#fff;padding-top:5.83px;"><span>9<span class="p">%</span></span></div>
<div class="c n k0 pc" style="left:235px;top:363px;width:47px;height:24px;background:#fff;padding-top:5.83px;"><span>10<span class="p">%</span></span></div>
<div class="c n k0 pc" style="left:282px;top:363px;width:45px;height:24px;background:#fff;padding-top:5.83px;"><span>7<span class="p">%</span></span></div>
<div class="c n k0 pc" style="left:327px;top:363px;width:47px;height:24px;background:#fff;padding-top:5.83px;"><span>1<span class="p">%</span></span></div>
<div class="c n k0 pc" style="left:374px;top:363px;width:46px;height:24px;background:#fff;padding-top:5.83px;"><span>16<span class="p">%</span></span></div>
<div class="c n k0 pc" style="left:420px;top:363px;width:52px;height:24px;background:#fff;padding-top:5.83px;"><span>17<span class="p">%</span></span></div>
<div class="c n k0 pc" style="left:472px;top:363px;width:51px;height:24px;background:#fff;padding-top:5.83px;"><span>5<span class="p">%</span></span></div>
<div class="c n k0 pc" style="left:523px;top:363px;width:60px;height:24px;background:#fff;padding-top:5.83px;"><span>3<span class="p">%</span></span></div>
<div class="c n k0 red pc" style="left:583px;top:363px;width:59px;height:24px;background:#fff;padding-top:5.83px;"><span>0<span class="p">%</span></span></div>
<div class="c " style="left:642px;top:363px;width:6px;height:24px;background:#fff;"></div>
<div class="c n k0 pc" style="left:648px;top:363px;width:47px;height:24px;background:#fff;padding-top:5.83px;"><span>10<span class="p">%</span></span></div>
<div class="c n k0 pc" style="left:695px;top:363px;width:45px;height:24px;background:#fff;padding-top:5.83px;"><span>15<span class="p">%</span></span></div>
<div class="c n k0 pc" style="left:740px;top:363px;width:47px;height:24px;background:#fff;padding-top:5.83px;"><span>5<span class="p">%</span></span></div>
<div class="c n k0 pc" style="left:787px;top:363px;width:45px;height:24px;background:#fff;padding-top:5.83px;"><span><b class="m">-</b>42<span class="p">%</span></span></div>
<div class="c n k0 pc" style="left:832px;top:363px;width:56px;height:24px;background:#fff;padding-top:5.83px;"><span>42<span class="p">%</span></span></div>
<div class="c n k0 pc" style="left:888px;top:363px;width:56px;height:24px;background:#fff;padding-top:5.83px;"><span>55<span class="p">%</span></span></div>
<div class="c n k0 pc" style="left:944px;top:363px;width:67px;height:24px;background:#fff;padding-top:5.83px;"><span>15<span class="p">%</span></span></div>
<div class="c n k0 red pc" style="left:1011px;top:363px;width:67px;height:24px;background:#fff;padding-top:5.83px;"><span>10<span class="p">%</span></span></div>
<div class="c lab" style="left:0px;top:387px;width:190px;height:22px;background:#d9e1f2;padding-top:4.18px;"><span><span class="k">其中：国有控股企业</span></span></div>
<div class="c n k0 pc" style="left:190px;top:387px;width:45px;height:22px;background:#fff;padding-top:4.18px;"><span>15<span class="p">%</span></span></div>
<div class="c n k0 pc" style="left:235px;top:387px;width:47px;height:22px;background:#fff;padding-top:4.18px;"><span>9<span class="p">%</span></span></div>
<div class="c n k0 pc" style="left:282px;top:387px;width:45px;height:22px;background:#fff;padding-top:4.18px;"><span>4<span class="p">%</span></span></div>
<div class="c n k0 pc" style="left:327px;top:387px;width:47px;height:22px;background:#fff;padding-top:4.18px;"><span><b class="m">-</b>1<span class="p">%</span></span></div>
<div class="c n k0 pc" style="left:374px;top:387px;width:46px;height:22px;background:#fff;padding-top:4.18px;"><span>21<span class="p">%</span></span></div>
<div class="c n k0 pc" style="left:420px;top:387px;width:52px;height:22px;background:#fff;padding-top:4.18px;"><span>8<span class="p">%</span></span></div>
<div class="c n k0 pc" style="left:472px;top:387px;width:51px;height:22px;background:#fff;padding-top:4.18px;"><span>1<span class="p">%</span></span></div>
<div class="c n k0 pc" style="left:523px;top:387px;width:60px;height:22px;background:#fff;padding-top:4.18px;"><span>0<span class="p">%</span></span></div>
<div class="c n k0 red pc" style="left:583px;top:387px;width:59px;height:22px;background:#fff;padding-top:4.18px;"><span>0<span class="p">%</span></span></div>
<div class="c " style="left:642px;top:387px;width:6px;height:22px;background:#fff;"></div>
<div class="c n k0 pc" style="left:648px;top:387px;width:47px;height:22px;background:#fff;padding-top:4.18px;"><span>9<span class="p">%</span></span></div>
<div class="c n k0 pc" style="left:695px;top:387px;width:45px;height:22px;background:#fff;padding-top:4.18px;"><span><b class="m">-</b>12<span class="p">%</span></span></div>
<div class="c n k0 pc" style="left:740px;top:387px;width:47px;height:22px;background:#fff;padding-top:4.18px;"><span><b class="m">-</b>3<span class="p">%</span></span></div>
<div class="c n k0 pc" style="left:787px;top:387px;width:45px;height:22px;background:#fff;padding-top:4.18px;"><span>56<span class="p">%</span></span></div>
<div class="c n k0 pc" style="left:832px;top:387px;width:56px;height:22px;background:#fff;padding-top:4.18px;"><span>3<span class="p">%</span></span></div>
<div class="c n k0 pc" style="left:888px;top:387px;width:56px;height:22px;background:#fff;padding-top:4.18px;"><span><b class="m">-</b>3<span class="p">%</span></span></div>
<div class="c n k0 pc" style="left:944px;top:387px;width:67px;height:22px;background:#fff;padding-top:4.18px;"><span><b class="m">-</b>5<span class="p">%</span></span></div>
<div class="c n k0 red pc" style="left:1011px;top:387px;width:67px;height:22px;background:#fff;padding-top:4.18px;"><span>0<span class="p">%</span></span></div>
<div class="c lab" style="left:0px;top:409px;width:190px;height:25px;background:#d9e1f2;padding-top:5.23px;"><span><span class="k">股份制企业</span></span></div>
<div class="c n k0 pc" style="left:190px;top:409px;width:45px;height:25px;background:#fff;padding-top:5.23px;"><span>12<span class="p">%</span></span></div>
<div class="c n k0 pc" style="left:235px;top:409px;width:47px;height:25px;background:#fff;padding-top:5.23px;"><span>10<span class="p">%</span></span></div>
<div class="c n k0 pc" style="left:282px;top:409px;width:45px;height:25px;background:#fff;padding-top:5.23px;"><span>5<span class="p">%</span></span></div>
<div class="c n k0 pc" style="left:327px;top:409px;width:47px;height:25px;background:#fff;padding-top:5.23px;"><span>1<span class="p">%</span></span></div>
<div class="c n k0 pc" style="left:374px;top:409px;width:46px;height:25px;background:#fff;padding-top:5.23px;"><span>21<span class="p">%</span></span></div>
<div class="c n k0 pc" style="left:420px;top:409px;width:52px;height:25px;background:#fff;padding-top:5.23px;"><span>7<span class="p">%</span></span></div>
<div class="c n k0 pc" style="left:472px;top:409px;width:51px;height:25px;background:#fff;padding-top:5.23px;"><span>2<span class="p">%</span></span></div>
<div class="c n k0 pc" style="left:523px;top:409px;width:60px;height:25px;background:#fff;padding-top:5.23px;"><span>3<span class="p">%</span></span></div>
<div class="c n k0 red pc" style="left:583px;top:409px;width:59px;height:25px;background:#fff;padding-top:5.23px;"><span>3<span class="p">%</span></span></div>
<div class="c " style="left:642px;top:409px;width:6px;height:25px;background:#fff;"></div>
<div class="c n k0 pc" style="left:648px;top:409px;width:47px;height:25px;background:#fff;padding-top:5.23px;"><span>10<span class="p">%</span></span></div>
<div class="c n k0 pc" style="left:695px;top:409px;width:45px;height:25px;background:#fff;padding-top:5.23px;"><span><b class="m">-</b>3<span class="p">%</span></span></div>
<div class="c n k0 pc" style="left:740px;top:409px;width:47px;height:25px;background:#fff;padding-top:5.23px;"><span>3<span class="p">%</span></span></div>
<div class="c n k0 pc" style="left:787px;top:409px;width:45px;height:25px;background:#fff;padding-top:5.23px;"><span>40<span class="p">%</span></span></div>
<div class="c n k0 pc" style="left:832px;top:409px;width:56px;height:25px;background:#fff;padding-top:5.23px;"><span><b class="m">-</b>3<span class="p">%</span></span></div>
<div class="c n k0 pc" style="left:888px;top:409px;width:56px;height:25px;background:#fff;padding-top:5.23px;"><span><b class="m">-</b>1<span class="p">%</span></span></div>
<div class="c n k0 pc" style="left:944px;top:409px;width:67px;height:25px;background:#fff;padding-top:5.23px;"><span><b class="m">-</b>4<span class="p">%</span></span></div>
<div class="c n k0 red pc" style="left:1011px;top:409px;width:67px;height:25px;background:#fff;padding-top:5.23px;"><span>3<span class="p">%</span></span></div>
<div class="c lab" style="left:0px;top:434px;width:190px;height:25px;background:#d9e1f2;padding-top:4.88px;"><span><span class="k">外商及港澳台商投资企业</span></span></div>
<div class="c n k0 pc" style="left:190px;top:434px;width:45px;height:25px;background:#fff;padding-top:4.88px;"><span>10<span class="p">%</span></span></div>
<div class="c n k0 pc" style="left:235px;top:434px;width:47px;height:25px;background:#fff;padding-top:4.88px;"><span>6<span class="p">%</span></span></div>
<div class="c n k0 pc" style="left:282px;top:434px;width:45px;height:25px;background:#fff;padding-top:4.88px;"><span>0<span class="p">%</span></span></div>
<div class="c n k0 pc" style="left:327px;top:434px;width:47px;height:25px;background:#fff;padding-top:4.88px;"><span>1<span class="p">%</span></span></div>
<div class="c n k0 pc" style="left:374px;top:434px;width:46px;height:25px;background:#fff;padding-top:4.88px;"><span>15<span class="p">%</span></span></div>
<div class="c n k0 pc" style="left:420px;top:434px;width:52px;height:25px;background:#fff;padding-top:4.88px;"><span>1<span class="p">%</span></span></div>
<div class="c n k0 pc" style="left:472px;top:434px;width:51px;height:25px;background:#fff;padding-top:4.88px;"><span><b class="m">-</b>2<span class="p">%</span></span></div>
<div class="c n k0 pc" style="left:523px;top:434px;width:60px;height:25px;background:#fff;padding-top:4.88px;"><span><b class="m">-</b>1<span class="p">%</span></span></div>
<div class="c n k0 red pc" style="left:583px;top:434px;width:59px;height:25px;background:#fff;padding-top:4.88px;"><span>1<span class="p">%</span></span></div>
<div class="c " style="left:642px;top:434px;width:6px;height:25px;background:#fff;"></div>
<div class="c n k0 pc" style="left:648px;top:434px;width:47px;height:25px;background:#fff;padding-top:4.88px;"><span>5<span class="p">%</span></span></div>
<div class="c n k0 pc" style="left:695px;top:434px;width:45px;height:25px;background:#fff;padding-top:4.88px;"><span><b class="m">-</b>4<span class="p">%</span></span></div>
<div class="c n k0 pc" style="left:740px;top:434px;width:47px;height:25px;background:#fff;padding-top:4.88px;"><span>7<span class="p">%</span></span></div>
<div class="c n k0 pc" style="left:787px;top:434px;width:45px;height:25px;background:#fff;padding-top:4.88px;"><span>21<span class="p">%</span></span></div>
<div class="c n k0 pc" style="left:832px;top:434px;width:56px;height:25px;background:#fff;padding-top:4.88px;"><span><b class="m">-</b>10<span class="p">%</span></span></div>
<div class="c n k0 pc" style="left:888px;top:434px;width:56px;height:25px;background:#fff;padding-top:4.88px;"><span><b class="m">-</b>7<span class="p">%</span></span></div>
<div class="c n k0 pc" style="left:944px;top:434px;width:67px;height:25px;background:#fff;padding-top:4.88px;"><span><b class="m">-</b>2<span class="p">%</span></span></div>
<div class="c n k0 red pc" style="left:1011px;top:434px;width:67px;height:25px;background:#fff;padding-top:4.88px;"><span>5<span class="p">%</span></span></div>
<div class="c lab" style="left:0px;top:459px;width:190px;height:25px;background:#d9e1f2;padding-top:5.13px;"><span><span class="k">其中：私营企业</span></span></div>
<div class="c n k0 pc" style="left:190px;top:459px;width:45px;height:25px;background:#fff;padding-top:5.13px;"><span>9<span class="p">%</span></span></div>
<div class="c n k0 pc" style="left:235px;top:459px;width:47px;height:25px;background:#fff;padding-top:5.13px;"><span>9<span class="p">%</span></span></div>
<div class="c n k0 pc" style="left:282px;top:459px;width:45px;height:25px;background:#fff;padding-top:5.13px;"><span>6<span class="p">%</span></span></div>
<div class="c n k0 pc" style="left:327px;top:459px;width:47px;height:25px;background:#fff;padding-top:5.13px;"><span>1<span class="p">%</span></span></div>
<div class="c n k0 pc" style="left:374px;top:459px;width:46px;height:25px;background:#fff;padding-top:5.13px;"><span>19<span class="p">%</span></span></div>
<div class="c n k0 pc" style="left:420px;top:459px;width:52px;height:25px;background:#fff;padding-top:5.13px;"><span>3<span class="p">%</span></span></div>
<div class="c n k0 pc" style="left:472px;top:459px;width:51px;height:25px;background:#fff;padding-top:5.13px;"><span>1<span class="p">%</span></span></div>
<div class="c n k0 pc" style="left:523px;top:459px;width:60px;height:25px;background:#fff;padding-top:5.13px;"><span>2<span class="p">%</span></span></div>
<div class="c n k0 red pc" style="left:583px;top:459px;width:59px;height:25px;background:#fff;padding-top:5.13px;"><span>2<span class="p">%</span></span></div>
<div class="c " style="left:642px;top:459px;width:6px;height:25px;background:#fff;"></div>
<div class="c n k0 pc" style="left:648px;top:459px;width:47px;height:25px;background:#fff;padding-top:5.13px;"><span>8<span class="p">%</span></span></div>
<div class="c n k0 pc" style="left:695px;top:459px;width:45px;height:25px;background:#fff;padding-top:5.13px;"><span>2<span class="p">%</span></span></div>
<div class="c n k0 pc" style="left:740px;top:459px;width:47px;height:25px;background:#fff;padding-top:5.13px;"><span>3<span class="p">%</span></span></div>
<div class="c n k0 pc" style="left:787px;top:459px;width:45px;height:25px;background:#fff;padding-top:5.13px;"><span>28<span class="p">%</span></span></div>
<div class="c n k0 pc" style="left:832px;top:459px;width:56px;height:25px;background:#fff;padding-top:5.13px;"><span><b class="m">-</b>7<span class="p">%</span></span></div>
<div class="c n k0 pc" style="left:888px;top:459px;width:56px;height:25px;background:#fff;padding-top:5.13px;"><span>2<span class="p">%</span></span></div>
<div class="c n k0 pc" style="left:944px;top:459px;width:67px;height:25px;background:#fff;padding-top:5.13px;"><span>1<span class="p">%</span></span></div>
<div class="c n k0 red pc" style="left:1011px;top:459px;width:67px;height:25px;background:#fff;padding-top:5.13px;"><span>5<span class="p">%</span></span></div>
<svg id="gl" viewBox="0 0 1080 486"><rect x="-0.05" y="-0.05" width="1078.80" height="1.1"/>
<rect x="188.95" y="25.15" width="889.80" height="1.1"/>
<rect x="-0.05" y="59.75" width="1078.80" height="1.1"/>
<rect x="-0.05" y="85.05" width="1078.80" height="1.1"/>
<rect x="-0.05" y="111.95" width="1078.80" height="1.1"/>
<rect x="-0.05" y="134.55" width="1078.80" height="1.1"/>
<rect x="-0.05" y="156.75" width="1078.80" height="1.1"/>
<rect x="-0.05" y="180.05" width="1078.80" height="1.1"/>
<rect x="-0.05" y="202.95" width="1078.80" height="1.1"/>
<rect x="-0.05" y="225.85" width="1078.80" height="1.1"/>
<rect x="-0.05" y="248.65" width="1078.80" height="1.1"/>
<rect x="188.95" y="271.05" width="889.80" height="1.1"/>
<rect x="-0.05" y="293.65" width="1078.80" height="1.1"/>
<rect x="-0.05" y="317.45" width="1078.80" height="1.1"/>
<rect x="-0.05" y="340.35" width="1078.80" height="1.1"/>
<rect x="-0.05" y="362.85" width="1078.80" height="1.1"/>
<rect x="-0.05" y="386.05" width="1078.80" height="1.1"/>
<rect x="-0.05" y="408.85" width="1078.80" height="1.1"/>
<rect x="-0.05" y="432.95" width="1078.80" height="1.1"/>
<rect x="-0.05" y="458.15" width="1078.80" height="1.1"/>
<rect x="-0.05" y="483.15" width="1078.80" height="1.1"/>
<rect x="-0.05" y="-0.05" width="1.1" height="484.30"/>
<rect x="188.95" y="-0.05" width="1.1" height="484.30"/>
<rect x="234.65" y="25.15" width="1.1" height="224.60"/>
<rect x="234.65" y="271.05" width="1.1" height="213.20"/>
<rect x="281.25" y="25.15" width="1.1" height="224.60"/>
<rect x="281.25" y="271.05" width="1.1" height="213.20"/>
<rect x="326.75" y="25.15" width="1.1" height="224.60"/>
<rect x="326.75" y="271.05" width="1.1" height="213.20"/>
<rect x="373.25" y="25.15" width="1.1" height="224.60"/>
<rect x="373.25" y="271.05" width="1.1" height="213.20"/>
<rect x="419.05" y="25.15" width="1.1" height="224.60"/>
<rect x="419.05" y="271.05" width="1.1" height="213.20"/>
<rect x="470.95" y="25.15" width="1.1" height="224.60"/>
<rect x="470.95" y="271.05" width="1.1" height="213.20"/>
<rect x="522.45" y="25.15" width="1.1" height="224.60"/>
<rect x="522.45" y="271.05" width="1.1" height="213.20"/>
<rect x="582.25" y="25.15" width="1.1" height="224.60"/>
<rect x="582.25" y="271.05" width="1.1" height="213.20"/>
<rect x="641.15" y="-0.05" width="1.1" height="484.30"/>
<rect x="647.75" y="-0.05" width="1.1" height="484.30"/>
<rect x="694.15" y="25.15" width="1.1" height="224.60"/>
<rect x="694.15" y="271.05" width="1.1" height="213.20"/>
<rect x="739.85" y="25.15" width="1.1" height="224.60"/>
<rect x="739.85" y="271.05" width="1.1" height="213.20"/>
<rect x="786.25" y="25.15" width="1.1" height="224.60"/>
<rect x="786.25" y="271.05" width="1.1" height="213.20"/>
<rect x="831.85" y="25.15" width="1.1" height="224.60"/>
<rect x="831.85" y="271.05" width="1.1" height="213.20"/>
<rect x="887.85" y="25.15" width="1.1" height="224.60"/>
<rect x="887.85" y="271.05" width="1.1" height="213.20"/>
<rect x="942.95" y="25.15" width="1.1" height="224.60"/>
<rect x="942.95" y="271.05" width="1.1" height="213.20"/>
<rect x="1010.85" y="25.15" width="1.1" height="224.60"/>
<rect x="1010.85" y="271.05" width="1.1" height="213.20"/>
<rect x="1077.65" y="-0.05" width="1.1" height="484.30"/></svg>
<svg id="wm" viewBox="0 0 1080 486"><text x="837.9" y="453.8">公</text><text x="867.55" y="453.8">众</text><text x="896.85" y="453.8">号</text><text x="957.2" y="453.8">崔</text><text x="987.0" y="453.8">东</text><text x="1017.9" y="453.8">树</text><circle cx="938.8" cy="443.5" r="1.7"/><mask id="mk1"><rect x="780" y="415" width="60" height="50" fill="#fff"/><ellipse cx="815.6" cy="445.6" rx="12.4" ry="10.6" fill="#000"/><circle cx="797.3" cy="434.2" r="1.7" fill="#000"/><circle cx="806.6" cy="434.2" r="1.7" fill="#000"/></mask><mask id="mk2"><rect x="780" y="415" width="60" height="50" fill="#fff"/><circle cx="811.8" cy="443.2" r="1.35" fill="#000"/><circle cx="819.6" cy="443.2" r="1.35" fill="#000"/></mask><g class="lg"><g mask="url(#mk1)"><ellipse cx="801.9" cy="436.6" rx="13.6" ry="10.6"/><path d="M792.5 443.5l-1.6 6.600 7.200-3.400z"/></g><g mask="url(#mk2)"><ellipse cx="815.6" cy="445.6" rx="11" ry="9.200"/><path d="M819.5 453.300l4.800 3.300-.7-5.400z"/></g></g></svg>
</div>
</body></html>
